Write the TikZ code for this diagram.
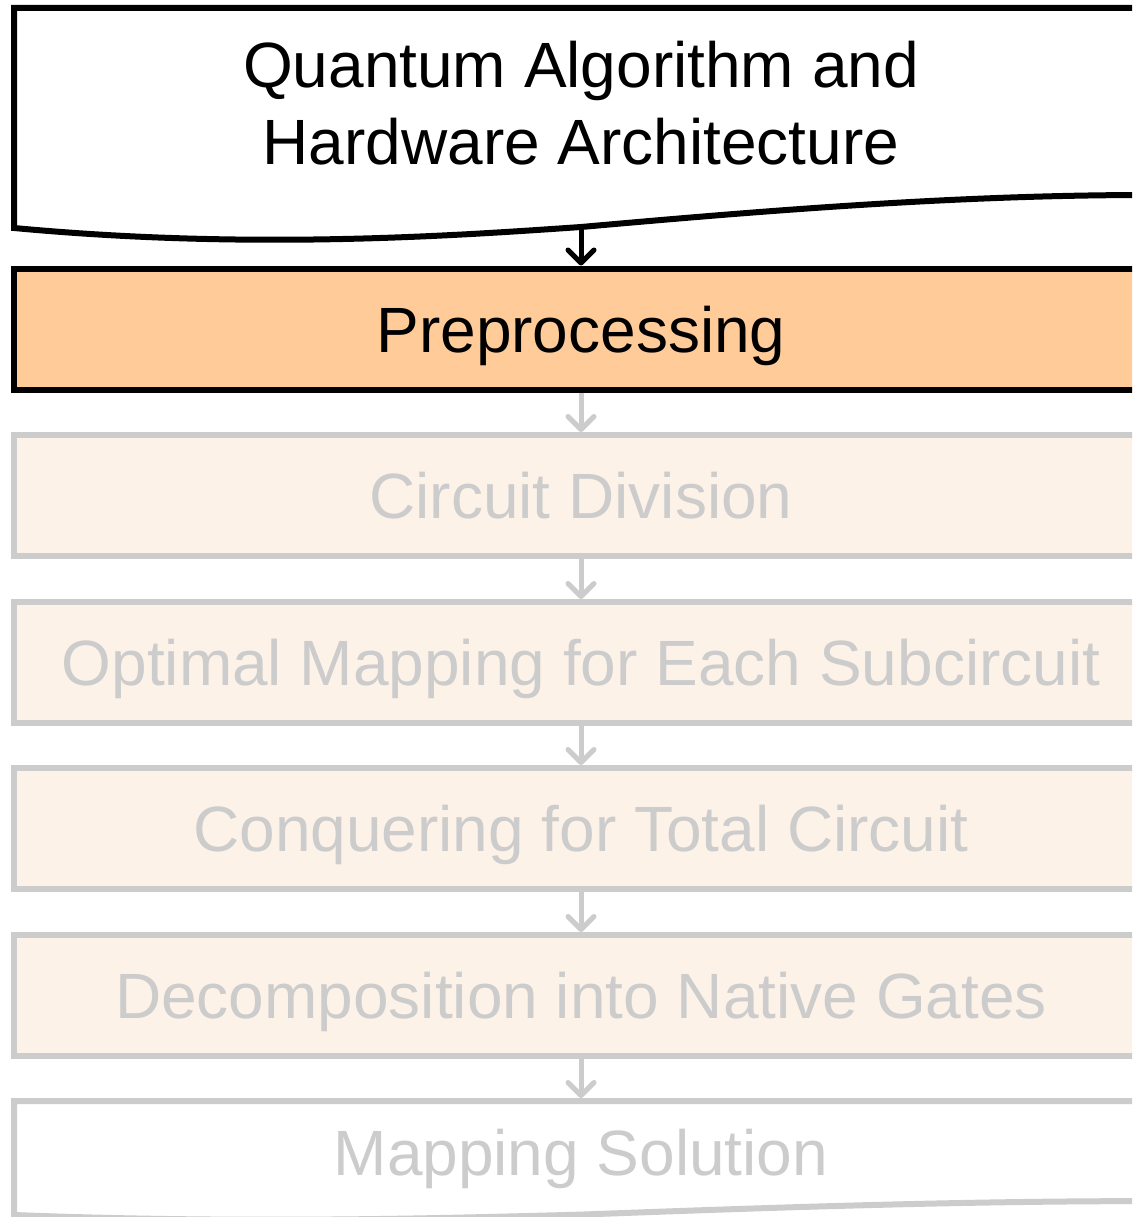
\documentclass[tikz,border=0pt]{standalone}
\usepackage{fontspec}
\setmainfont{Liberation Sans}
\usetikzlibrary{arrows.meta}
\definecolor{orangefill}{HTML}{FFCC99}
\definecolor{palefill}{HTML}{FDF2E8}
\definecolor{fadegray}{HTML}{CCCCCC}
\begin{document}
\begin{tikzpicture}[x=1pt,y=-1pt,
  bigtext/.style={font=\fontsize{64}{77}\selectfont},
  stepbox/.style={rectangle,draw,line width=6pt,minimum width=1134pt,minimum height=121pt,
    inner sep=0pt,text height=46pt,text depth=0pt,bigtext},
  active/.style={stepbox,draw=black,fill=orangefill,text=black},
  faded/.style={stepbox,draw=fadegray,fill=palefill,text=fadegray},
  docshape/.style={line width=6pt,fill=white,line join=miter},
  doctext/.style={inner sep=0pt,anchor=base,bigtext},
  connector/.style={line width=5pt,line cap=butt,
    arrows={-Straight Barb[length=13pt,width=26pt,line width=5pt,round]}}
]
\clip (0,0) rectangle (1132,1217);
\fill[white] (0,0) rectangle (1132,1217);

% input document
\draw[docshape,draw=black] (1148,8) -- (14,8) -- (14,228)
  .. controls (250,250) and (450,236) .. (581,227)
  .. controls (750,212) and (950,195) .. (1148,195) -- cycle;
\node[doctext,text=black] (in1) at (581,88) {Quantum Algorithm and};
\node[doctext,text=black] (in2) at (581,165) {Hardware Architecture};
\coordinate (inbot) at (581,227);

% steps
\node[active] (pre) at (581,329) {Preprocessing};
\node[faded] (cd) at (581,495.5) {Circuit Division};
\node[faded] (om) at (581,662.5) {Optimal Mapping for Each Subcircuit};
\node[faded] (cq) at (581,828.5) {Conquering for Total Circuit};
\node[faded] (dn) at (581,995.5) {Decomposition into Native Gates};

% output document
\draw[docshape,draw=fadegray] (1148,1101) -- (14,1101) -- (14,1215)
  .. controls (250,1224) and (450,1218) .. (581,1214.6)
  .. controls (750,1208.3) and (950,1201.1) .. (1148,1201.1) -- cycle;
\node[doctext,text=fadegray] (ms) at (581,1175) {Mapping Solution};
\coordinate (mstop) at (581,1098);

% connectors
\draw[connector,draw=black] (inbot) -- (pre.north);
\draw[connector,draw=fadegray] (pre.south) -- (cd.north);
\draw[connector,draw=fadegray] (cd.south) -- (om.north);
\draw[connector,draw=fadegray] (om.south) -- (cq.north);
\draw[connector,draw=fadegray] (cq.south) -- (dn.north);
\draw[connector,draw=fadegray] (dn.south) -- (mstop);
\end{tikzpicture}
\end{document}
